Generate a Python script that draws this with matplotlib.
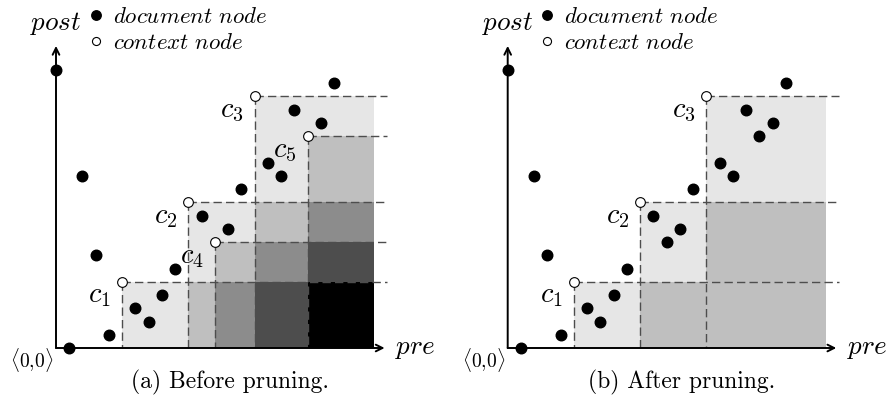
import numpy as np
import matplotlib
matplotlib.use('Agg')
import matplotlib.pyplot as plt
from matplotlib.colors import ListedColormap
from matplotlib.lines import Line2D

plt.rcParams['mathtext.fontset'] = 'cm'
plt.rcParams['lines.scale_dashes'] = False

# document nodes: pre / post ranks
pre = list(range(22))
post = [21, 0, 13, 7, 1, 5, 3, 2, 4, 6, 11, 10, 8, 9, 12, 19, 14, 13, 18, 16, 17, 20]

# context nodes (pre ranks) and their labels
ctx_before = [5, 10, 12, 15, 19]
lbl_before = ['c_1', 'c_2', 'c_4', 'c_3', 'c_5']
ctx_after = [5, 10, 15]
lbl_after = ['c_1', 'c_2', 'c_3']

captions = ['(a) Before pruning.', '(b) After pruning.']

shades = ['white', '#e6e6e6', '#bfbfbf', '#8c8c8c', '#4d4d4d', 'black']

SCALE = 13.25      # pixels per rank
REGION_END = 24
DASH_END = 25
AXIS_X_END = 24.8
AXIS_Y_END = 22.8
DASH_COL = '#4d4d4d'


def region_counts(ctx, cap):
    xs = sorted(ctx) + [REGION_END]
    ys = [0] + sorted(post[c] for c in ctx)
    counts = np.zeros((len(ys) - 1, len(xs) - 1))
    for j in range(len(xs) - 1):
        for i in range(len(ys) - 1):
            cx = (xs[j] + xs[j+1]) / 2
            cy = (ys[i] + ys[i+1]) / 2
            n = sum(1 for c in ctx if cx >= c and cy <= post[c])
            counts[i, j] = min(n, cap)
    return xs, ys, np.ma.masked_equal(counts, 0)


def draw_panel(ax, ctx, labels, cap, caption):
    xs, ys, counts = region_counts(ctx, cap)
    ax.pcolormesh(xs, ys, counts, cmap=ListedColormap(shades),
                  vmin=-0.5, vmax=5.5, linewidth=0, antialiased=False,
                  zorder=1)

    for c in ctx:
        ax.plot([c, DASH_END], [post[c], post[c]], color=DASH_COL, lw=1.0,
                dashes=(6, 3), zorder=2)
        ax.plot([c, c], [post[c], 0], color=DASH_COL, lw=1.0,
                dashes=(6, 3), zorder=2)

    ap = dict(arrowstyle='->', lw=1.4, color='black', shrinkA=0, shrinkB=0,
              mutation_scale=12)
    ax.annotate('', xy=(AXIS_X_END, 0), xytext=(0, 0), arrowprops=ap,
                zorder=3)
    ax.annotate('', xy=(0, AXIS_Y_END), xytext=(0, 0), arrowprops=ap,
                zorder=3)

    doc = [p for p in pre if p not in ctx]
    ax.plot(doc, [post[p] for p in doc], 'o', color='black', ms=7.6,
            zorder=4)
    ax.plot(ctx, [post[c] for c in ctx], 'o', mfc='white', mec='black',
            ms=7.0, mew=0.8, zorder=5)

    for c, lab in zip(ctx, labels):
        ax.annotate('$' + lab + '$', (c, post[c]), xytext=(-8, -15),
                    textcoords='offset points', ha='right', va='baseline',
                    fontsize=20.5, zorder=6)

    ax.text(0, 24.0, r'$post$', ha='center', va='baseline', fontsize=19.5)
    ax.text(25.6, -0.45, r'$pre$', ha='left', va='baseline', fontsize=19.5)
    ax.text(-0.2, -0.9, r'$\langle 0{,}0\rangle$', ha='right', va='center',
            fontsize=14)
    ax.text(13.1, -2.57, caption, ha='center', va='center', fontsize=17,
            family='cmr10')

    handles = [Line2D([], [], ls='none', marker='o', color='black', ms=6.8),
               Line2D([], [], ls='none', marker='o', mfc='white', mec='black',
                      ms=5.8, mew=0.8)]
    ax.legend(handles, [r'$\mathit{document\ node}$', r'$\mathit{context\ node}$'],
              loc='upper left', bbox_to_anchor=(2.55, 25.9),
              bbox_transform=ax.transData, frameon=False, fontsize=16.5,
              handlelength=0.5, handletextpad=0.5, borderpad=0,
              borderaxespad=0, labelspacing=0.12)


W, H = 887, 397
fig = plt.figure(figsize=(W / 100, H / 100), dpi=100)

panels = [(0, 440, 56, ctx_before, lbl_before, 5),
          (440, 887, 507.7, ctx_after, lbl_after, 2)]
y0 = 348
for k, (px0, px1, ox, ctx, labels, cap) in enumerate(panels):
    ax = fig.add_axes([px0 / W, 0, (px1 - px0) / W, 1])
    ax.set_xlim((px0 - ox) / SCALE, (px1 - ox) / SCALE)
    ax.set_ylim((y0 - H) / SCALE, y0 / SCALE)
    ax.axis('off')
    draw_panel(ax, ctx, labels, cap, captions[k])

fig.savefig('out.png', dpi=100)
